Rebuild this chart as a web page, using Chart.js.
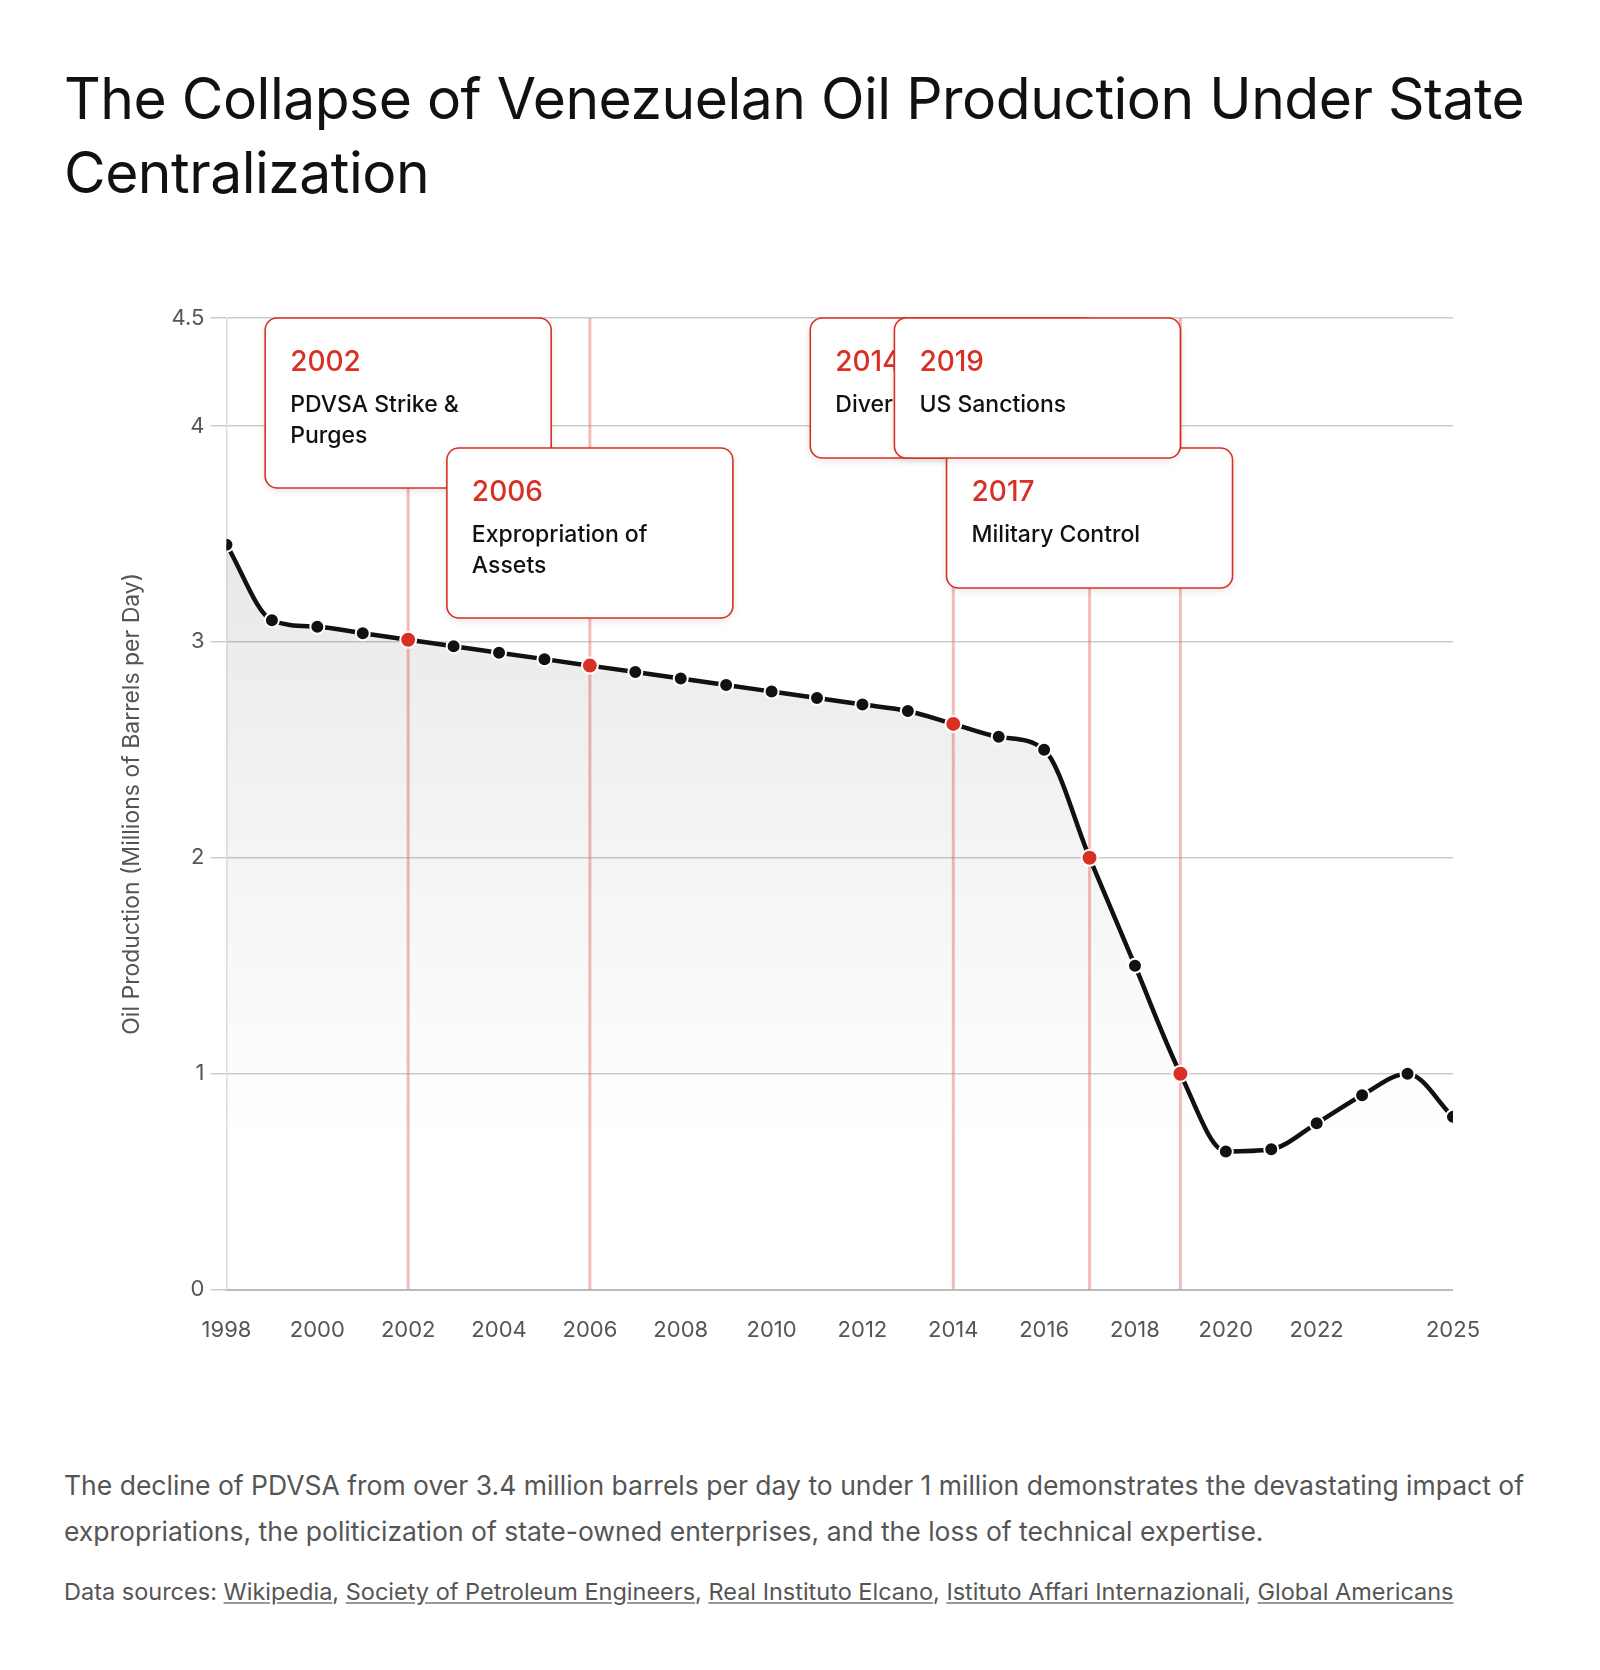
<!DOCTYPE html>
<html><head><meta charset="utf-8">
<script src="https://cdn.jsdelivr.net/npm/chart.js@4"></script>
<style>
body{margin:0;background:#fff;font-family:Inter,"Open Sans",sans-serif;width:1600px;height:1670px;position:relative;overflow:hidden}
h1{position:absolute;left:64px;top:62px;margin:0;font-weight:400;font-size:57px;line-height:74px;color:#111;width:1500px;letter-spacing:-0.5px}
#wrap{position:absolute;left:100px;top:280px;width:1400px;height:1100px}
#cap{position:absolute;left:64px;top:1462px;width:1490px;font-size:26.5px;line-height:46px;color:#555}
#src{position:absolute;left:64px;top:1577px;font-size:23.5px;color:#555}
#src u{text-decoration-color:#999}
</style></head><body>
<h1>The Collapse of Venezuelan Oil Production Under State Centralization</h1>
<div id="wrap"><canvas id="c"></canvas></div>
<div id="cap">The decline of PDVSA from over 3.4 million barrels per day to under 1 million demonstrates the devastating impact of expropriations, the politicization of state-owned enterprises, and the loss of technical expertise.</div>
<div id="src">Data sources: <u>Wikipedia</u>, <u>Society of Petroleum Engineers</u>, <u>Real Instituto Elcano</u>, <u>Istituto Affari Internazionali</u>, <u>Global Americans</u></div>
<script>
const years=[1998,1999,2000,2001,2002,2003,2004,2005,2006,2007,2008,2009,2010,2011,2012,2013,2014,2015,2016,2017,2018,2019,2020,2021,2022,2023,2024,2025];
const production=[3.45,3.10,3.07,3.04,3.01,2.98,2.95,2.92,2.89,2.86,2.83,2.80,2.77,2.74,2.71,2.68,2.62,2.56,2.50,2.00,1.50,1.00,0.64,0.65,0.77,0.90,1.00,0.80];
const xTicks=[1998,2000,2002,2004,2006,2008,2010,2012,2014,2016,2018,2020,2022,2025];
const yTicks=[0,1,2,3,4,4.5];
const eventYears=[2002,2006,2014,2017,2019];
const eventLabels=[["PDVSA Strike &","Purges"],["Expropriation of","Assets"],["Diversion of Funds"],["Military Control"],["US Sanctions"]];
const eventRow=[0,1,0,1,0];
const eventAlign=["center","center","center","center","right"];

const eventPlugin={id:'events',
 beforeDatasetsDraw(ch){const c=ch.ctx,a=ch.chartArea,x=ch.scales.x;
  c.save();c.strokeStyle='rgba(235,120,120,0.5)';c.lineWidth=3;
  eventYears.forEach(y=>{const px=x.getPixelForValue(y);c.beginPath();c.moveTo(px,a.top);c.lineTo(px,a.bottom);c.stroke();});
  c.restore();},
 afterDatasetsDraw(ch){const c=ch.ctx,a=ch.chartArea,x=ch.scales.x;
  const W=286;
  eventYears.forEach((y,i)=>{const px=x.getPixelForValue(y);
   const left=eventAlign[i]==='right'?px-W:px-W/2;
   const top=a.top+eventRow[i]*130;
   const H=eventLabels[i].length>1?170:140;
   c.save();c.shadowColor='rgba(0,0,0,0.12)';c.shadowBlur=8;c.shadowOffsetY=2;
   c.beginPath();c.roundRect(left,top,W,H,12);c.fillStyle='#fff';c.fill();
   c.shadowColor='transparent';c.strokeStyle='#d93025';c.lineWidth=1.6;c.stroke();
   c.fillStyle='#d93025';c.font='500 28px Inter, sans-serif';c.textBaseline='alphabetic';
   c.fillText(String(y),left+25,top+53);
   c.fillStyle='#111';c.font='500 23px Inter, sans-serif';
   eventLabels[i].forEach((l,k)=>c.fillText(l,left+25,top+94+k*31));
   c.restore();});
 }};

const ctx=document.getElementById('c');
new Chart(ctx,{type:'line',
 data:{datasets:[{data:years.map((y,i)=>({x:y,y:production[i]})),
  borderColor:'#111',borderWidth:4.5,tension:0.4,cubicInterpolationMode:'monotone',
  pointRadius:years.map(y=>eventYears.includes(y)?8:7),pointBorderWidth:2,pointBorderColor:'#fff',
  pointBackgroundColor:years.map(y=>eventYears.includes(y)?'#d93025':'#111'),
  fill:'origin',
  backgroundColor(cx){const a=cx.chart.chartArea;if(!a)return 'rgba(0,0,0,0.05)';
   const g=cx.chart.ctx.createLinearGradient(0,a.top,0,a.bottom);
   g.addColorStop(0,'rgba(0,0,0,0.12)');g.addColorStop(0.85,'rgba(0,0,0,0)');return g;}}]},
 plugins:[eventPlugin],
 options:{responsive:true,maintainAspectRatio:false,animation:false,
  layout:{padding:{top:38,right:43,bottom:16,left:14}},
  plugins:{legend:{display:false},tooltip:{enabled:false}},
  scales:{
   x:{type:'linear',min:1998,max:2025,
    afterBuildTicks(s){s.ticks=xTicks.map(v=>({value:v}));},
    ticks:{autoSkip:false,maxRotation:0,color:'#555',font:{size:22,family:'Inter'},padding:20,callback:v=>String(v)},
    grid:{display:false},border:{color:'#bbb',width:2}},
   y:{min:0,max:4.5,
    afterBuildTicks(s){s.ticks=yTicks.map(v=>({value:v}));},
    ticks:{color:'#555',font:{size:22,family:'Inter'},padding:6},
    grid:{color:'#ccc',lineWidth:1.5,tickLength:16,tickColor:'#ccc'},border:{color:'#ddd',width:1.5},
    title:{display:true,text:'Oil Production (Millions of Barrels per Day)',color:'#555',font:{size:23,family:'Inter'},padding:{bottom:20}}}}}
});
</script></body></html>
